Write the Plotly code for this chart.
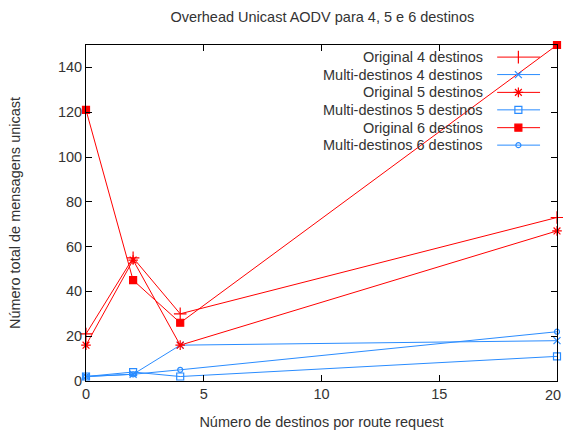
import plotly.graph_objects as go

# Number of destinations per route request
destinos = [0, 2, 4, 20]
x_ticks = [0, 5, 10, 15, 20]
y_ticks = [0, 20, 40, 60, 80, 100, 120, 140]

# Total unicast messages per configuration
original_4 = [21, 55, 30, 73]
multi_4 = [2, 3, 16, 18]
original_5 = [16, 54, 16, 67]
multi_5 = [2, 4, 2, 11]
original_6 = [121, 45, 26, 150]
multi_6 = [2, 3, 5, 22]

RED = "#ff0000"
BLUE = "#2a8cff"
FONT = "Liberation Sans"
TXT = "#333333"
FS = 14.5

series = [
    ("Original 4 destinos", original_4, RED, "line-ns-open", 9),
    ("Multi-destinos 4 destinos", multi_4, BLUE, "x-thin-open", 7),
    ("Original 5 destinos", original_5, RED, "asterisk-open", 8),
    ("Multi-destinos 5 destinos", multi_5, BLUE, "square-open", 7),
    ("Original 6 destinos", original_6, RED, "square", 7),
    ("Multi-destinos 6 destinos", multi_6, BLUE, "circle-open", 5),
]

fig = go.Figure()

for name, values, color, symbol, size in series:
    sym = "cross-thin-open" if symbol == "line-ns-open" else symbol
    fig.add_trace(go.Scatter(
        x=destinos, y=values, mode="lines+markers", name=name,
        line=dict(color=color, width=1),
        marker=dict(symbol=sym, size=size, color=color,
                    line=dict(color=color, width=1.2)),
        cliponaxis=False, showlegend=False,
    ))

# Key drawn inside the plot area: right-aligned labels, sample to the right
key_rows = [0.964, 0.912, 0.859, 0.807, 0.754, 0.702]
for (name, values, color, symbol, size), ky in zip(series, key_rows):
    fig.add_trace(go.Scatter(
        x=[0.873, 0.964], y=[ky, ky], mode="lines",
        line=dict(color=color, width=1), xaxis="x2", yaxis="y2",
        showlegend=False, hoverinfo="skip",
    ))
    fig.add_trace(go.Scatter(
        x=[0.918], y=[ky], mode="markers",
        marker=dict(symbol=symbol, size=size, color=color,
                    line=dict(color=color, width=1.2)),
        xaxis="x2", yaxis="y2", showlegend=False, hoverinfo="skip",
    ))
    fig.add_annotation(
        x=0.848, y=ky, xref="x2", yref="y2", text=name, showarrow=False,
        xanchor="right", yanchor="middle",
        font=dict(family=FONT, size=FS, color=TXT),
    )

# Last x tick label nudged left so it stays inside the page
x_labels = [str(v) for v in x_ticks[:-1]] + [""]
fig.add_annotation(
    x=x_ticks[-1], y=0, xref="x", yref="paper", text=str(x_ticks[-1]),
    showarrow=False, xanchor="right", yanchor="top", xshift=6, yshift=-4,
    font=dict(family=FONT, size=FS, color=TXT),
)

axis_common = dict(
    ticks="inside", ticklen=6, tickcolor="black",
    showline=True, linecolor="black", linewidth=1, mirror="ticks",
    showgrid=False, zeroline=False,
    automargin=False,
    tickfont=dict(family=FONT, size=FS, color=TXT),
)

fig.update_layout(
    width=563, height=430,
    margin=dict(l=86, r=6, t=45, b=49),
    paper_bgcolor="white", plot_bgcolor="white",
    font=dict(family=FONT, size=FS, color=TXT),
    title=dict(text="Overhead Unicast AODV para 4, 5 e 6 destinos",
               x=0.5725, xanchor="center", y=0.96, yanchor="middle",
               font=dict(family=FONT, size=FS, color=TXT)),
    xaxis=dict(
        range=[0, 20], tickvals=x_ticks, ticktext=x_labels,
        title=dict(text="Número de destinos por route request", standoff=26,
                   font=dict(family=FONT, size=FS, color=TXT)),
        **axis_common,
    ),
    yaxis=dict(
        range=[0, 150], tickvals=y_ticks,
        title=dict(text="Número total de mensagens unicast", standoff=33,
                   font=dict(family=FONT, size=FS, color=TXT)),
        **axis_common,
    ),
    xaxis2=dict(range=[0, 1], overlaying="x", anchor="y2", visible=False),
    yaxis2=dict(range=[0, 1], overlaying="y", anchor="x2", visible=False),
)

fig.write_html("out.html")
